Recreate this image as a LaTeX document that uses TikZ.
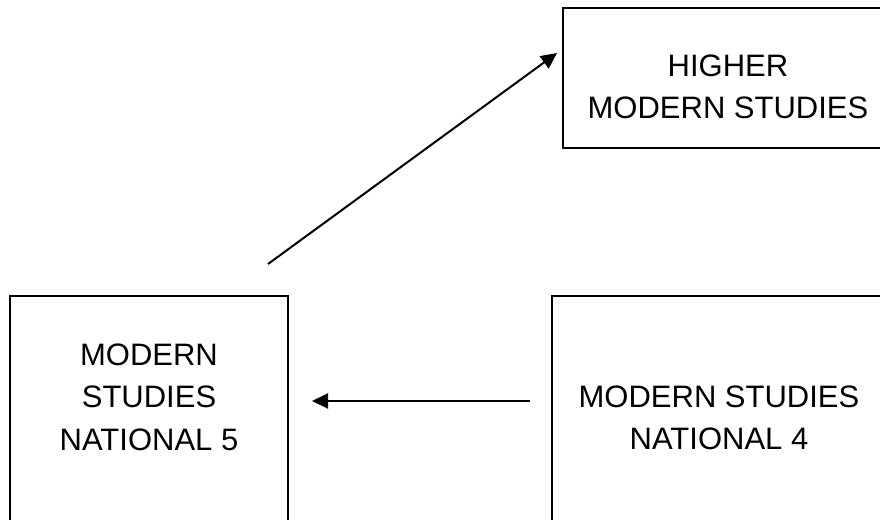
\documentclass[tikz,border=0pt]{standalone}
\usepackage{fontspec}
\setmainfont{Liberation Sans}
\usetikzlibrary{arrows.meta}
\begin{document}
\begin{tikzpicture}[x=1pt,y=-1pt,
  box/.style={draw, line width=2pt, rectangle, inner sep=0pt},
  lbl/.style={align=center, font=\fontsize{31}{42.5}\selectfont, inner sep=0pt},
  link/.style={line width=2pt, -{Triangle[length=16pt,width=15pt]}}]
  \useasboundingbox (0,0) rectangle (880,519);
  \clip (0,0) rectangle (880,519);
  % course boxes (the lower ones run past the page edge)
  \node[box, minimum width=330pt, minimum height=140pt] (higher) at (728,78) {};
  \node[box, minimum width=278pt, minimum height=280pt] (nat5) at (149,436) {};
  \node[box, minimum width=334pt, minimum height=280pt] (nat4) at (719,436) {};
  % box captions
  \node[lbl] (higherTxt) at (728,87) {HIGHER\\MODERN STUDIES};
  \node[lbl] (nat5Txt) at (149,397) {MODERN\\STUDIES\\NATIONAL 5};
  \node[lbl] (nat4Txt) at (719,418) {MODERN STUDIES\\NATIONAL 4};
  % progression arrows
  \coordinate (upStart) at (268,264);
  \coordinate (upEnd) at (557,53);
  \coordinate (sideStart) at (530,401);
  \coordinate (sideEnd) at (312,401);
  \draw[link] (upStart) -- (upEnd);
  \draw[link] (sideStart) -- (sideEnd);
\end{tikzpicture}
\end{document}
